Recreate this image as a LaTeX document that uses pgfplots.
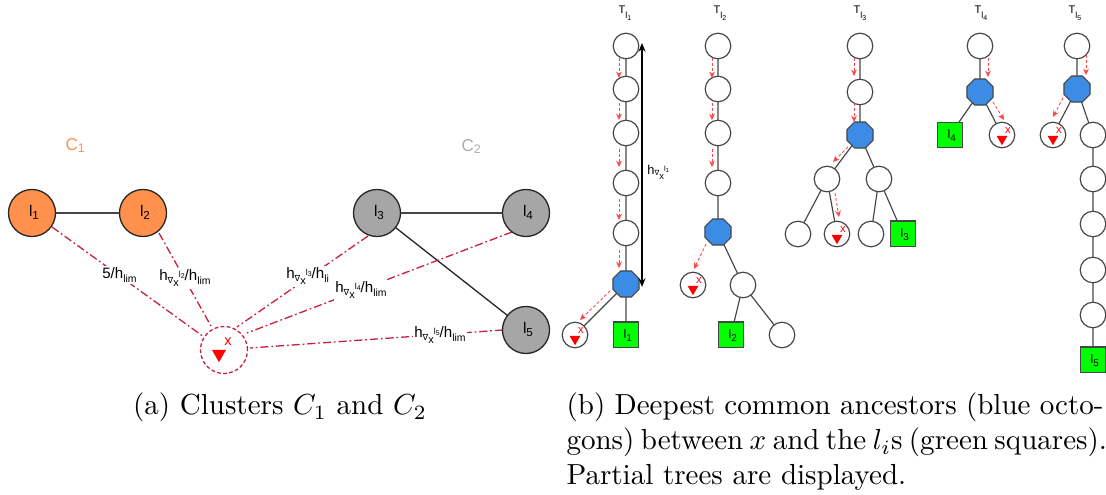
\documentclass[border=0pt]{standalone}
\usepackage{fontspec}
\usepackage{pgfplots}
\pgfplotsset{compat=1.18}
\usetikzlibrary{arrows.meta}

\newfontfamily\labfont{Liberation Sans}
\newfontfamily\symfont{DejaVu Sans}

\definecolor{clorange}{RGB}{255,145,77}
\definecolor{clgray}{RGB}{166,166,166}
\definecolor{ctwo}{RGB}{172,172,172}
\definecolor{linkred}{RGB}{200,32,62}
\definecolor{arrred}{RGB}{255,70,70}
\definecolor{dcablue}{RGB}{60,140,230}
\definecolor{leafgreen}{RGB}{0,255,0}
\definecolor{edgegray}{RGB}{70,70,70}

\newcommand{\lab}[1]{\labfont\fontsize{#1}{#1}\selectfont}
% shifted small text: \sbx{shift}{size}{text}
\newcommand{\sbx}[3]{\raisebox{#1}{\fontsize{#2}{#2}\selectfont #3}}
\newcommand{\hx}[1]{h\sbx{-0.7pt}{2.9}{\symfont ∇}\sbx{-2pt}{3.8}{x}\sbx{1.1pt}{3}{l\sbx{-0.4pt}{2.4}{#1}}}
\newcommand{\hlim}{h\sbx{-1.1pt}{3.6}{lim}}

% regular octagon with flat top/bottom
\pgfdeclareplotmark{octagon}{%
  \pgfpathmoveto{\pgfpointpolar{22.5}{\pgfplotmarksize}}%
  \pgfpathlineto{\pgfpointpolar{67.5}{\pgfplotmarksize}}%
  \pgfpathlineto{\pgfpointpolar{112.5}{\pgfplotmarksize}}%
  \pgfpathlineto{\pgfpointpolar{157.5}{\pgfplotmarksize}}%
  \pgfpathlineto{\pgfpointpolar{202.5}{\pgfplotmarksize}}%
  \pgfpathlineto{\pgfpointpolar{247.5}{\pgfplotmarksize}}%
  \pgfpathlineto{\pgfpointpolar{292.5}{\pgfplotmarksize}}%
  \pgfpathlineto{\pgfpointpolar{337.5}{\pgfplotmarksize}}%
  \pgfpathclose
  \pgfusepathqfillstroke}

\tikzset{
  link/.style={linkred, line width=0.45pt, dash pattern=on 2.8pt off 1pt on 0.6pt off 1pt},
  redarr/.style={arrred, line width=0.3pt, dash pattern=on 1pt off 0.75pt, -{Stealth[length=2.2pt,width=2pt]}},
  treeedge/.style={edgegray, line width=0.4pt},
  lbl/.style={font=\lab{5.3}, anchor=base west, inner sep=0pt},
  elbl/.style={font=\lab{5.2}, anchor=base west, inner sep=0.6pt, fill=white},
  xlbl/.style={text=red, font=\lab{3.9}, inner sep=0pt},
  leaflbl/.style={font=\lab{4.2}, anchor=base west, inner sep=0pt},
  tlbl/.style={font=\lab{3.8}, anchor=base west, inner sep=0pt},
}

\begin{document}
\begin{tikzpicture}
\begin{axis}[
  at={(0,0)}, anchor=south west,
  x=0.3445pt, y=0.3445pt,
  xmin=0, xmax=1106, ymin=0, ymax=495,
  y dir=reverse,
  hide axis,
  clip marker paths=true,
  unbounded coords=jump,
]

% ---------- (a) clusters ----------
\addplot[edgegray, line width=0.5pt] coordinates {(32,213) (143,213)};
\addplot[edgegray, line width=0.5pt] coordinates {(377,213) (526,213)};
\addplot[black!85, line width=0.45pt] coordinates {(377,213) (526,330)};

\addplot[link] coordinates {(52,227) (204,337)};
\addplot[link] coordinates {(159,233) (211,326)};
\addplot[link] coordinates {(368,236) (237,327)};
\addplot[link] coordinates {(512,232) (247,333)};
\addplot[link] coordinates {(503,330) (250,348)};

\addplot[only marks, mark=*, mark size=8.1pt, mark options={fill=clorange, draw=black!85, line width=0.45pt}]
  coordinates {(32,213) (143,213)};
\addplot[only marks, mark=*, mark size=8.1pt, mark options={fill=clgray, draw=black!85, line width=0.45pt}]
  coordinates {(377,213) (526,213) (526,330)};
\addplot[only marks, mark=o, mark size=8.1pt, mark options={draw=linkred, line width=0.45pt, dash pattern=on 1.3pt off 0.8pt}]
  coordinates {(224,350)};
\addplot[only marks, mark=triangle*, mark size=2.4pt, mark options={rotate=180, fill=red, draw=red}]
  coordinates {(219,354)};

\node[text=red, font=\lab{5}] at (axis cs:228,342) {x};
\node[text=clorange, font=\lab{5.9}, anchor=base west, inner sep=0pt] at (axis cs:65,151) {C\sbx{-0.6pt}{4.3}{1}};
\node[text=ctwo, font=\lab{5.9}, anchor=base west, inner sep=0pt] at (axis cs:461,152) {C\sbx{-0.6pt}{4.3}{2}};

\node[lbl] at (axis cs:28.5,217) {l\sbx{-0.7pt}{4}{1}};
\node[lbl] at (axis cs:139.5,217) {l\sbx{-0.7pt}{4}{2}};
\node[lbl] at (axis cs:373.5,217) {l\sbx{-0.7pt}{4}{3}};
\node[lbl] at (axis cs:522.5,217) {l\sbx{-0.7pt}{4}{4}};
\node[lbl] at (axis cs:522.5,334) {l\sbx{-0.7pt}{4}{5}};

\node[elbl] at (axis cs:100,279) {5/\hlim};
\node[elbl] at (axis cs:157,281) {\hx{2}/\hlim};
\node[elbl] at (axis cs:284,279) {\hx{3}/h\sbx{-1.1pt}{3.6}{li}};
\node[elbl] at (axis cs:333,293) {\hx{4}/\hlim};
\node[elbl] at (axis cs:412,338) {\hx{5}/\hlim};

% ---------- (b) partial trees ----------
\addplot[treeedge] coordinates {
  (626,46) (626,335) (nan,nan) (626,284) (575,335) (nan,nan)
  (718,46) (718,232) (743,285) (731,335) (nan,nan) (743,285) (782,335) (nan,nan)
  (860,46) (860,135) (827,179) (798,234) (nan,nan) (827,179) (837,234) (nan,nan)
  (860,135) (879,179) (871,234) (nan,nan) (879,179) (903,234) (nan,nan)
  (980,46) (980,92) (950,135) (nan,nan) (980,92) (1002,135) (nan,nan)
  (1077,46) (1077,89) (1053,135) (nan,nan) (1077,89) (1093,135) (1093,360)
};

% plain nodes
\addplot[only marks, mark=*, mark size=4.4pt, mark options={fill=white, draw=edgegray, line width=0.4pt}] coordinates {
  (626,46) (626,89) (626,133) (626,183) (626,233) (575,335)
  (718,46) (718,89) (718,133) (718,183) (693,285) (743,285) (782,335)
  (860,46) (860,92) (827,179) (879,179) (798,234) (837,234) (871,234)
  (980,46) (1002,135)
  (1077,46) (1053,135) (1093,135) (1093,179) (1093,224) (1093,270) (1093,315)
};
% deepest common ancestors
\addplot[only marks, mark=octagon, mark size=4.85pt, mark options={fill=dcablue, draw=edgegray, line width=0.4pt}]
  coordinates {(626,284) (718,232) (860,135) (980,92) (1077,89)};
% the leaves l_i
\addplot[only marks, mark=square*, mark size=4.45pt, mark options={fill=leafgreen, draw=edgegray, line width=0.4pt}]
  coordinates {(626,335) (731,335) (903,234) (950,135) (1093,360)};
% position of x
\addplot[only marks, mark=triangle*, mark size=1.75pt, mark options={rotate=180, fill=red, draw=red}]
  coordinates {(575,339) (693,289) (837,238) (1002,139) (1053,139)};

\node[xlbl] at (axis cs:581,331) {x};
\node[xlbl] at (axis cs:699,281) {x};
\node[xlbl] at (axis cs:843,230) {x};
\node[xlbl] at (axis cs:1008,131) {x};
\node[xlbl] at (axis cs:1059,131) {x};

% descent paths
\addplot[redarr] coordinates {(619,58) (619,78)};
\addplot[redarr] coordinates {(619,103) (619,120)};
\addplot[redarr] coordinates {(619,149) (619,167)};
\addplot[redarr] coordinates {(619,199) (619,220)};
\addplot[redarr] coordinates {(619,250) (619,268)};
\addplot[redarr] coordinates {(610,291) (580,320)};
\addplot[redarr] coordinates {(712,58) (712,78)};
\addplot[redarr] coordinates {(712,103) (712,120)};
\addplot[redarr] coordinates {(712,149) (712,167)};
\addplot[redarr] coordinates {(706,244) (694,269)};
\addplot[redarr] coordinates {(854,58) (854,76)};
\addplot[redarr] coordinates {(854,103) (854,122)};
\addplot[redarr] coordinates {(848,147) (833,162)};
\addplot[redarr] coordinates {(835,193) (839,217)};
\addplot[redarr] coordinates {(988,58) (988,77)};
\addplot[redarr] coordinates {(993,102) (1004,120)};
\addplot[redarr] coordinates {(1086,55) (1086,75)};
\addplot[redarr] coordinates {(1063,98) (1053,117)};

% height of the ancestor in T_{l_1}
\addplot[black, line width=0.4pt, {Stealth[length=3pt,width=2.4pt]}-{Stealth[length=3pt,width=2.4pt]}]
  coordinates {(642,43) (642,287)};
\node[font=\lab{5.2}, anchor=west, inner sep=0pt, scale=0.85] at (axis cs:647,172) {\hx{1}};

% labels inside leaves
\node[leaflbl] at (axis cs:623,339) {l\sbx{-0.9pt}{3.4}{1}};
\node[leaflbl] at (axis cs:728,339) {l\sbx{-0.9pt}{3.4}{2}};
\node[leaflbl] at (axis cs:900,238) {l\sbx{-0.9pt}{3.4}{3}};
\node[leaflbl] at (axis cs:947,139) {l\sbx{-0.9pt}{3.4}{4}};
\node[leaflbl] at (axis cs:1090,364) {l\sbx{-0.9pt}{3.4}{5}};

% tree titles
\node[tlbl] at (axis cs:618,14) {T\sbx{-1.5pt}{3.1}{l\sbx{-0.6pt}{2.4}{1}}};
\node[tlbl] at (axis cs:713,14) {T\sbx{-1.5pt}{3.1}{l\sbx{-0.6pt}{2.4}{2}}};
\node[tlbl] at (axis cs:853,14) {T\sbx{-1.5pt}{3.1}{l\sbx{-0.6pt}{2.4}{3}}};
\node[tlbl] at (axis cs:974,14) {T\sbx{-1.5pt}{3.1}{l\sbx{-0.6pt}{2.4}{4}}};
\node[tlbl] at (axis cs:1068,14) {T\sbx{-1.5pt}{3.1}{l\sbx{-0.6pt}{2.4}{5}}};

% ---------- captions ----------
\node[anchor=base, inner sep=0pt] at (axis cs:280,415) {(a) Clusters $C_1$ and $C_2$};
\node[anchor=base west, inner sep=0pt] at (axis cs:566,415) {\hbox to 185pt{(b) Deepest common ancestors (blue octo-}};
\node[anchor=base west, inner sep=0pt] at (axis cs:566,450) {\hbox to 185pt{gons) between $x$ and the $l_i$s (green squares).}};
\node[anchor=base west, inner sep=0pt] at (axis cs:566,485) {Partial trees are displayed.};
\end{axis}
\pgfresetboundingbox
\path (0,0) rectangle (381.02pt,170.53pt);
\end{tikzpicture}
\end{document}
